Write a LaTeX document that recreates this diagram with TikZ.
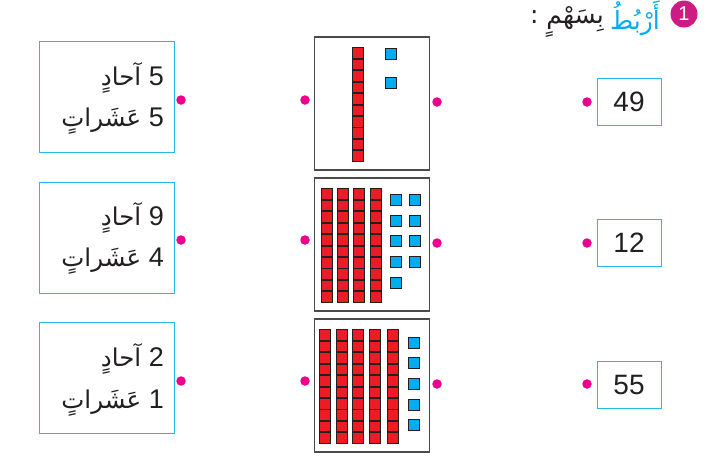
\documentclass[tikz,border=0pt]{standalone}
\usepackage{fontspec}
\setmainfont{Liberation Sans}
\newfontfamily\arabicfont[Script=Arabic]{DejaVu Sans}
\TeXXeTstate=1
\definecolor{dotpink}{HTML}{EC008C}
\definecolor{badgepink}{HTML}{CE1A84}
\definecolor{skyline}{HTML}{29B6E8}
\definecolor{cubeblue}{HTML}{00AEEF}
\definecolor{cubered}{HTML}{ED1C24}
\definecolor{framegrey}{HTML}{4A4A4A}
\definecolor{inkdark}{HTML}{231F20}
\tikzset{
 x=1pt,y=-1pt,
 pinkdot/.style={circle,fill=dotpink,inner sep=0pt,minimum size=9.5pt},
 labelbox/.style={draw=skyline,line width=1pt,inner sep=0pt,minimum width=135pt,minimum height=111pt},
 numbox/.style={draw=skyline,line width=1pt,inner sep=0pt,minimum width=64pt,minimum height=47pt,font=\fontsize{28}{28}\selectfont,text=inkdark},
 frame/.style={draw=framegrey,line width=1.2pt,fill=white,inner sep=0pt,minimum width=115pt,minimum height=133pt},
 tenpc/.style={draw=inkdark,fill=cubered,line width=.9pt,inner sep=0pt,minimum size=10.6pt},
 onepc/.style={draw=inkdark,fill=cubeblue,line width=.9pt,inner sep=0pt,minimum size=10.6pt},
 linetext/.style={anchor=east,inner sep=0pt,text=inkdark,font=\fontsize{27}{27}\selectfont},
 headtext/.style={anchor=east,inner sep=0pt,font=\arabicfont\fontsize{25}{25}\selectfont},
}
\newcommand{\ar}[1]{{\arabicfont\fontsize{24.5}{25}\selectfont #1}}
\newcommand{\tens}[2]{\foreach \i in {0,...,9}{\node[tenpc] at (#1,#2+\i*11.45) {};}}
\newcommand{\ones}[2]{\node[onepc] at (#1,#2) {};}
\begin{document}
\begin{tikzpicture}
\useasboundingbox (0,0) rectangle (710,456);
% heading
\node[circle,fill=badgepink,inner sep=0pt,minimum size=27pt,text=white,font=\fontsize{20}{20}\selectfont] (badge) at (684,14) {1};
\node[headtext,text=cubeblue] (title1) at (660,18) {\beginR أَرْبُطُ\endR};
\node[headtext,text=inkdark] (title2) at (604,22) {\beginR بِسَهْمٍ :\endR};
% left boxes
\node[labelbox] (b1) at (106.5,96.5) {};
\node[labelbox] (b2) at (106.5,237.5) {};
\node[labelbox] (b3) at (106.5,377.5) {};
\node[linetext] (b1a) at (164,78) {\beginR 5 \ar{آحادٍ}\endR};
\node[linetext] (b1b) at (164,121) {\beginR 5 \ar{عَشَراتٍ}\endR};
\node[linetext] (b2a) at (164,218) {\beginR 9 \ar{آحادٍ}\endR};
\node[linetext] (b2b) at (164,261) {\beginR 4 \ar{عَشَراتٍ}\endR};
\node[linetext] (b3a) at (164,359) {\beginR 2 \ar{آحادٍ}\endR};
\node[linetext] (b3b) at (164,403) {\beginR 1 \ar{عَشَراتٍ}\endR};
% frames
\node[frame] (f1) at (372,103.5) {};
\node[frame] (f2) at (372,244.5) {};
\node[frame] (f3) at (372,385.5) {};
% frame 1
\tens{358}{53}
\ones{391}{54}\ones{391}{83}
% frame 2
\tens{327}{194}\tens{343}{194}\tens{359}{194}\tens{376}{194}
\foreach \y in {200,221,241,262,283}{\ones{396}{\y}}
\foreach \y in {200,221,241,262}{\ones{415}{\y}}
% frame 3
\tens{325}{335}\tens{342}{335}\tens{358}{335}\tens{375}{335}\tens{393}{335}
\foreach \y in {343,363,384,405,425}{\ones{414}{\y}}
% number boxes
\node[numbox] (n1) at (629,101.5) {49};
\node[numbox] (n2) at (629,242.5) {12};
\node[numbox] (n3) at (629,384.5) {55};
% dots
\node[pinkdot] (d11) at (181,100) {};
\node[pinkdot] (d12) at (181,240) {};
\node[pinkdot] (d13) at (181,381) {};
\node[pinkdot] (d21) at (305,100) {};
\node[pinkdot] (d22) at (305,240) {};
\node[pinkdot] (d23) at (305,381) {};
\node[pinkdot] (d31) at (437,102) {};
\node[pinkdot] (d32) at (437,243) {};
\node[pinkdot] (d33) at (437,384) {};
\node[pinkdot] (d41) at (587,102) {};
\node[pinkdot] (d42) at (587,243) {};
\node[pinkdot] (d43) at (587,384) {};
\end{tikzpicture}
\end{document}
